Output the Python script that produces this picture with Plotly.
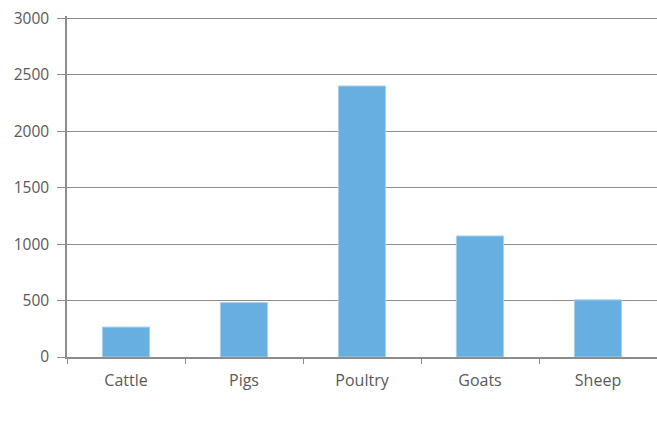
import plotly.graph_objects as go

categories = ["Cattle", "Pigs", "Poultry", "Goats", "Sheep"]
values = [265, 482, 2400, 1072, 506]
y_ticks = [0, 500, 1000, 1500, 2000, 2500, 3000]

BAR = "#67AFE0"
GRID = "#8C8C8C"
TEXT = "#595959"

fig = go.Figure(
    go.Bar(
        x=categories,
        y=values,
        marker=dict(color=BAR, line=dict(color="#A9D0EE", width=1)),
        width=0.4,
    )
)

fig.update_layout(
    width=657,
    height=442,
    margin=dict(l=67, r=0, t=16, b=85),
    plot_bgcolor="white",
    paper_bgcolor="white",
    showlegend=False,
    font=dict(family="Open Sans, Liberation Sans, sans-serif", size=15, color=TEXT),
)

fig.update_xaxes(
    showline=True,
    linecolor=GRID,
    linewidth=1.5,
    ticks="outside",
    tickson="boundaries",
    ticklen=5,
    tickcolor=GRID,
    tickfont=dict(size=16, color=TEXT),
    ticklabelstandoff=8,
    showgrid=False,
)

# range topped slightly above 3000 so the top gridline is drawn
fig.update_yaxes(
    range=[0, 3020],
    tickvals=y_ticks,
    showline=True,
    linecolor=GRID,
    linewidth=1.5,
    ticks="outside",
    ticklen=8,
    tickcolor=GRID,
    showgrid=True,
    gridcolor=GRID,
    gridwidth=1.3,
    zeroline=False,
    tickfont=dict(size=15.5, color=TEXT),
    ticklabelstandoff=5,
)

fig.write_html("out.html")
